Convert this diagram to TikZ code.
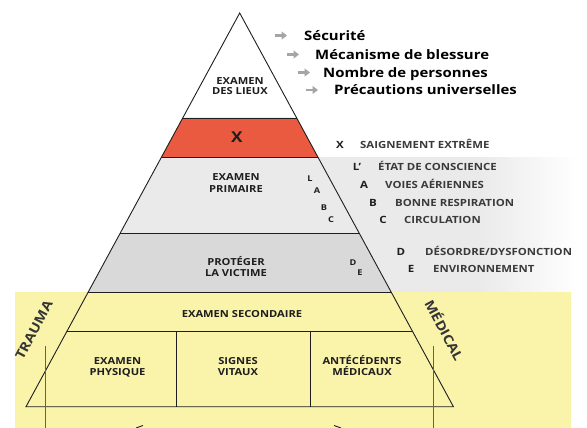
\documentclass[tikz,border=0pt]{standalone}
\usepackage{fontspec}
\setmainfont{Open Sans}[FakeStretch=1.15]
\usetikzlibrary{calc,arrows.meta}
\definecolor{redband}{RGB}{233,90,64}
\definecolor{yel}{RGB}{250,243,170}
\definecolor{lgray}{RGB}{234,234,234}
\definecolor{mgray}{RGB}{217,217,217}
\definecolor{ink}{RGB}{30,30,30}
\definecolor{txt}{RGB}{58,58,58}
\definecolor{arr}{RGB}{165,165,165}
\begin{document}
\begin{tikzpicture}[x=1pt,y=-1pt,
  pyr/.style={draw=ink,line width=0.9pt,line join=miter},
  lab/.style={font=\fontsize{9.7}{10.5}\selectfont\bfseries,text=ink,inner sep=0pt,anchor=base},
  tiny/.style={font=\fontsize{8}{9}\selectfont\bfseries,text=ink,inner sep=0pt,anchor=base},
  toplist/.style={font=\fontsize{13}{14}\selectfont\bfseries,text=black,inner sep=0pt,anchor=base west},
  grayarrow/.style={draw=arr,line width=2.4pt,-{Triangle[length=5.5pt,width=8pt]}},
  rkey/.style={font=\fontsize{10}{11}\selectfont\bfseries,text=ink,inner sep=0pt,anchor=base},
  rtxt/.style={font=\fontsize{9.9}{11}\selectfont\bfseries,text=txt,inner sep=0pt,anchor=base west},
  side/.style={font=\fontsize{13}{14}\selectfont\bfseries,text=ink!90,inner sep=0pt},
  thin/.style={draw=ink!70,line width=0.6pt}]
\useasboundingbox (0,0) rectangle (587,428);
\fill[white] (0,0) rectangle (587,428);
% gray band behind the right-hand lists
\fill[lgray] (300,157) rectangle (480,292);
\shade[left color=lgray,right color=white] (479.5,157) rectangle (578,292);
% yellow band
\fill[yel] (15,292) rectangle (571,428);
% pyramid coordinates
\coordinate (apex) at (239.7,13);
\coordinate (l1) at (182.7,118);  \coordinate (r1) at (296.7,118);
\coordinate (l2) at (161.5,157);  \coordinate (r2) at (317.9,157);
\coordinate (l3) at (120.3,233);  \coordinate (r3) at (359.1,233);
\coordinate (l4) at (88.3,292);   \coordinate (r4) at (391.1,292);
\coordinate (l5) at (67.1,331);   \coordinate (r5) at (412.3,331);
\coordinate (bl) at (26,406.7);   \coordinate (br) at (453.4,406.7);
\coordinate (d1t) at (176,331);   \coordinate (d1b) at (176,406.7);
\coordinate (d2t) at (310,331);   \coordinate (d2b) at (310,406.7);
% fills
\fill[white] (apex) -- (l1) -- (r1) -- cycle;
\fill[redband] (l1) -- (r1) -- (r2) -- (l2) -- cycle;
\fill[lgray] (l2) -- (r2) -- (r3) -- (l3) -- cycle;
\fill[mgray] (l3) -- (r3) -- (r4) -- (l4) -- cycle;
\fill[yel] (l4) -- (r4) -- (br) -- (bl) -- cycle;
% lines
\draw[pyr] (apex) -- (bl) -- (br) -- cycle;
\draw[pyr] (l1) -- (r1);
\draw[pyr] (l2) -- (r2);
\draw[pyr] (l3) -- (r3);
\draw[pyr] (l4) -- (r4);
\draw[pyr] (l5) -- (r5);
\draw[pyr] (d1t) -- (d1b);
\draw[pyr] (d2t) -- (d2b);
% thin verticals
\coordinate (vl1) at (45,346); \coordinate (vl2) at (45,428);
\coordinate (vr1) at (433,346); \coordinate (vr2) at (433,428);
\draw[thin] (vl1) -- (vl2);
\draw[thin] (vr1) -- (vr2);
% tiny arrow tips at the bottom edge
\coordinate (ta1) at (136,428); \coordinate (ta2) at (143,425.5);
\coordinate (tb1) at (341,428); \coordinate (tb2) at (334,425.5);
\draw[ink,line width=0.9pt] (ta1) -- (ta2);
\draw[ink,line width=0.9pt] (tb1) -- (tb2);
% pyramid labels
\node[lab] (lieux1) at (240,84.5) {EXAMEN};
\node[lab] (lieux2) at (240,95) {DES LIEUX};
\node[font=\fontsize{15}{15}\selectfont\bfseries,text=ink,inner sep=0pt,anchor=base] (xred) at (237,142.7) {X};
\node[lab] (prim1) at (236,180.7) {EXAMEN};
\node[lab] (prim2) at (236,192.7) {PRIMAIRE};
\node[tiny] (kl) at (310,181.5) {L};
\node[tiny] (ka) at (317,193.5) {A};
\node[tiny] (kb) at (324,210.5) {B};
\node[tiny] (kc) at (331,222.5) {C};
\node[lab] (prot1) at (236,265) {PROTÉGER};
\node[lab] (prot2) at (236,276.5) {LA VICTIME};
\node[tiny] (kd) at (353,265) {D};
\node[tiny] (ke) at (360,275) {E};
\node[lab] (sec) at (242,317.5) {EXAMEN SECONDAIRE};
\node[lab] (phys1) at (117.5,364) {EXAMEN};
\node[lab] (phys2) at (117.5,375) {PHYSIQUE};
\node[lab] (sig1) at (238,364) {SIGNES};
\node[lab] (sig2) at (238,375) {VITAUX};
\node[lab] (ant1) at (362,364) {ANTÉCÉDENTS};
\node[lab] (ant2) at (362,375) {MÉDICAUX};
% side labels
\node[side,rotate=62] (trauma) at (34,330) {TRAUMA};
\node[side,rotate=-62] (medical) at (445,330) {MÉDICAL};
% top list arrows
\coordinate (a1s) at (275,35.5); \coordinate (a1e) at (287,35.5);
\coordinate (a2s) at (287,54.5); \coordinate (a2e) at (299,54.5);
\coordinate (a3s) at (298,72.5); \coordinate (a3e) at (310,72.5);
\coordinate (a4s) at (306,90);   \coordinate (a4e) at (318,90);
\draw[grayarrow] (a1s) -- (a1e);
\draw[grayarrow] (a2s) -- (a2e);
\draw[grayarrow] (a3s) -- (a3e);
\draw[grayarrow] (a4s) -- (a4e);
% top list
\node[toplist] (t1) at (304,40.5) {Sécurité};
\node[toplist] (t2) at (315,59.5) {Mécanisme de blessure};
\node[toplist] (t3) at (323,77.5) {Nombre de personnes};
\node[toplist] (t4) at (334,95) {Précautions universelles};
% right list
\node[rkey] (rx) at (340,148) {X};
\node[rtxt] (rxt) at (360,148) {SAIGNEMENT EXTRÊME};
\node[rkey] (rl) at (357,170.5) {L’};
\node[rtxt] (rlt) at (378,170.5) {ÉTAT DE CONSCIENCE};
\node[rkey] (ra) at (364,188) {A};
\node[rtxt] (rat) at (385,188) {VOIES AÉRIENNES};
\node[rkey] (rb) at (373,206) {B};
\node[rtxt] (rbt) at (395,206) {BONNE RESPIRATION};
\node[rkey] (rc) at (383,223.5) {C};
\node[rtxt] (rct) at (404,223.5) {CIRCULATION};
\node[rkey] (rd) at (401,255) {D};
\node[rtxt] (rdt) at (425,255) {DÉSORDRE/DYSFONCTION};
\node[rkey] (re) at (411,272.5) {E};
\node[rtxt] (ret) at (433,272.5) {ENVIRONNEMENT};
\end{tikzpicture}
\end{document}
